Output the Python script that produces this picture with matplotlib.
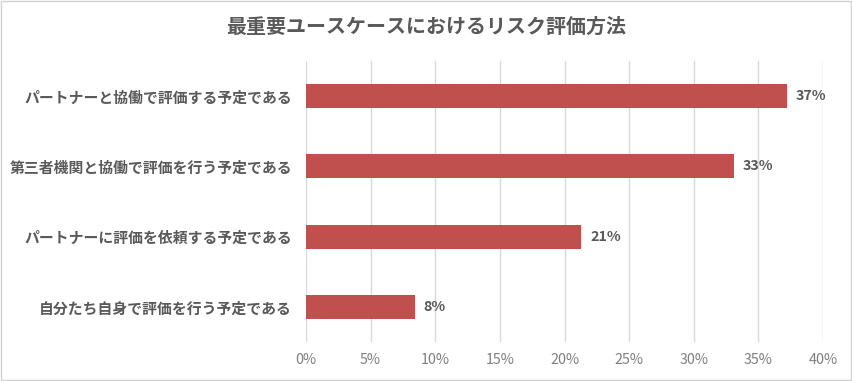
import matplotlib
matplotlib.use('Agg')
import matplotlib.pyplot as plt
import matplotlib.ticker as ticker
from matplotlib.patches import Rectangle

plt.rcParams['font.family'] = ['Noto Sans CJK JP', 'DejaVu Sans']

TITLE = '最重要ユースケースにおけるリスク評価方法'
CATEGORIES = [
    'パートナーと協働で評価する予定である',
    '第三者機関と協働で評価を行う予定である',
    'パートナーに評価を依頼する予定である',
    '自分たち自身で評価を行う予定である',
]
VALUES = [37.2, 33.1, 21.3, 8.4]
XTICKS = [0, 5, 10, 15, 20, 25, 30, 35, 40]

BAR_COLOR = '#C0504D'
TEXT_COLOR = '#595959'
TICK_COLOR = '#7F7F7F'
GRID_COLOR = '#D9D9D9'

fig = plt.figure(figsize=(8.53, 3.81), dpi=100)
fig.patch.set_facecolor('white')
ax = fig.add_axes([0.3587, 0.102, 0.6063, 0.738])

y = list(range(len(CATEGORIES)))
ax.barh(y, VALUES, height=0.34, color=BAR_COLOR, edgecolor='none', zorder=3)
for yi, v in zip(y, VALUES):
    ax.text(v + 0.7, yi, f'{round(v):.0f}%', va='center', ha='left',
            fontsize=10.3, fontweight='bold', color=TEXT_COLOR)

ax.set_ylim(len(CATEGORIES) - 0.5, -0.5)
ax.set_xlim(0, 40)
ax.set_yticks(y)
ax.set_yticklabels(CATEGORIES, fontsize=10.7, fontweight='bold', color=TEXT_COLOR)
ax.set_xticks(XTICKS)
ax.xaxis.set_major_formatter(ticker.FormatStrFormatter('%d%%'))
ax.tick_params(axis='x', labelsize=10.3, colors=TICK_COLOR, length=0, pad=8)
ax.tick_params(axis='y', length=0, pad=10)
for lbl in ax.get_xticklabels():
    lbl.set_color(TICK_COLOR)
ax.grid(axis='x', color=GRID_COLOR, linewidth=1, zorder=0)
for s in ax.spines.values():
    s.set_visible(False)

fig.text(0.5, 0.93, TITLE, ha='center', va='center', fontsize=14.4,
         fontweight='bold', color=TEXT_COLOR)

fig.patches.append(Rectangle((0.001, 0.002), 0.997, 0.995, transform=fig.transFigure,
                             fill=False, edgecolor='#D0D0D0', linewidth=1))

fig.savefig('out.png', dpi=100, facecolor='white')
